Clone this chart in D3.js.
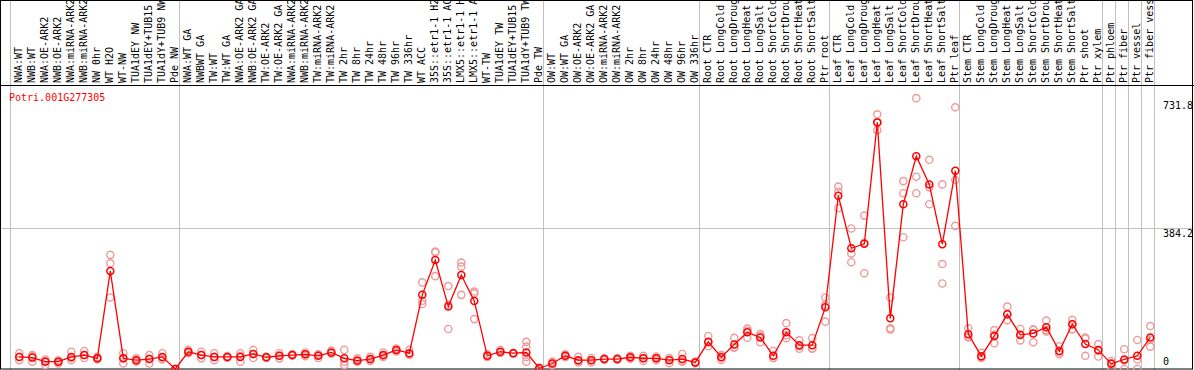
<!DOCTYPE html>
<html>
<head>
<meta charset="utf-8">
<script src="https://cdn.jsdelivr.net/npm/d3@7"></script>
<style>
  body { margin: 0; background: #fff; }
  text { font-family: "DejaVu Sans Mono", monospace; font-size: 10px; }
</style>
</head>
<body>
<script>
const W = 1194, H = 370;
const gene = "Potri.001G277305";

const labels = [
  "NWA:WT", "NWB:WT", "NWA:OE-ARK2", "NWB:OE-ARK2", "NWA:miRNA-ARK2", "NWB:miRNA-ARK2",
  "NW 0hr", "WT H2O", "WT-NW", "TUA1dEY NW", "TUA1dEY+TUB15 NW", "TUA1dY+TUB9 NW", "Pde NW",
  "NWA:WT GA", "NWBWT GA", "TW:WT", "TW:WT GA", "NWA:OE-ARK2 GA", "NWB:OE-ARK2 GA",
  "TW:OE-ARK2", "TW:OE-ARK2 GA", "NWA:miRNA-ARK2", "NWB:miRNA-ARK2", "TW:miRNA-ARK2", "TW:miRNA-ARK2",
  "TW 2hr", "TW 8hr", "TW 24hr", "TW 48hr", "TW 96hr", "TW 336hr", "WT ACC",
  "35S::etr1-1 H2O", "35S::etr1-1 ACC", "LMX5::etr1-1 H2O", "LMX5::etr1-1 ACC",
  "WT-TW", "TUA1dEY TW", "TUA1dEY+TUB15 TW", "TUA1dY+TUB9 TW", "Pde TW",
  "OW:WT", "OW:WT GA", "OW:OE-ARK2", "OW:OE-ARK2 GA", "OW:miRNA-ARK2", "OW:miRNA-ARK2",
  "OW 2hr", "OW 8hr", "OW 24hr", "OW 48hr", "OW 96hr", "OW 336hr",
  "Root CTR", "Root LongCold", "Root LongDrought", "Root LongHeat", "Root LongSalt",
  "Root ShortCold", "Root ShortDrought", "Root ShortHeat", "Root ShortSalt", "Ptr root",
  "Leaf CTR", "Leaf LongCold", "Leaf LongDrought", "Leaf LongHeat", "Leaf LongSalt",
  "Leaf ShortCold", "Leaf ShortDrought", "Leaf ShortHeat", "Leaf ShortSalt", "Ptr leaf",
  "Stem CTR", "Stem LongCold", "Stem LongDrought", "Stem LongHeat", "Stem LongSalt",
  "Stem ShortCold", "Stem ShortDrought", "Stem ShortHeat", "Stem ShortSalt", "Ptr shoot", "Ptr xylem",
  "Ptr phloem", "Ptr fiber", "Ptr vessel", "Ptr fiber vessel"
];

// index of first sample in each block (last entry = end)
const groupStarts = [0, 13, 41, 53, 63, 73, 84, 85, 86, 87, 88];

const means = [
  33, 31, 20, 20, 33, 38, 29, 267, 29, 24, 27, 33, 0,
  47, 38, 33, 33, 33, 41, 32, 36, 38, 40, 36, 45, 29, 23, 27, 38, 52, 43, 202,
  297, 170, 256, 185, 36, 47, 43, 45, 2,
  15, 36, 24, 24, 27, 27, 32, 29, 29, 24, 27, 18,
  74, 32, 67, 100, 86, 36, 100, 65, 65, 168,
  472, 329, 341, 672, 138, 449, 580, 503, 340, 540,
  95, 35, 90, 149, 93, 97, 114, 49, 122, 68, 52,
  14, 26, 36, 86
];

const reps = [
  [43, 24, 33], [38, 20, 35], [26, 11, 22], [24, 15, 20], [47, 24, 30], [49, 38, 30],
  [33, 26, 29], [311, 288, 195], [43, 15, 29], [29, 20, 24], [38, 15, 28], [43, 26, 31], [0, 0, 0],
  [52, 43, 46], [47, 29, 38], [43, 24, 33], [33, 31, 35], [43, 20, 36], [52, 41, 30],
  [32, 30, 34], [43, 29, 36], [38, 36, 40], [45, 35, 40], [40, 30, 38], [50, 42, 44],
  [52, 20, 11], [29, 20, 20], [33, 22, 26], [45, 33, 36], [56, 48, 52], [52, 38, 40], [236, 186, 177],
  [320, 318, 253], [226, 109, 175], [290, 279, 202], [211, 206, 136],
  [40, 33, 35], [52, 44, 45], [43, 42, 44], [74, 61, 33, 20], [2, 0, 4],
  [20, 10, 15], [40, 32, 36], [33, 18, 22], [30, 18, 24], [27, 25, 29], [29, 25, 27],
  [36, 28, 32], [36, 22, 29], [34, 24, 29], [30, 16, 26], [41, 20, 22], [20, 16, 18],
  [90, 62, 72], [38, 25, 33], [85, 58, 60], [110, 85, 104], [95, 73, 90],
  [49, 30, 30], [125, 92, 84], [78, 55, 62], [84, 56, 55], [195, 174, 129],
  [497, 483, 438], [383, 315, 291], [418, 261, 344], [694, 651, 672], [195, 111, 108],
  [512, 479, 359], [738, 524, 479], [570, 495, 449], [503, 286, 233], [713, 515, 390],
  [111, 86, 88], [44, 30, 32], [106, 70, 94], [170, 133, 150], [109, 78, 92],
  [108, 73, 107], [132, 102, 106], [62, 40, 45], [134, 108, 122], [86, 36, 83], [68, 34, 49],
  [16, 0, 22], [54, 0, 24], [79, 0, 26], [117, 61, 80]
];

const yTicks = [0, 384.2, 731.8];
const yGrid = [384.2];
const yMax = 768.4;

const svg = d3.select("body").append("svg")
    .attr("width", W)
    .attr("height", H);

const x = d3.scaleBand()
    .domain(d3.range(labels.length))
    .range([10.5, 10.5 + labels.length * 13]);
const px = i => x(i) + 8.8;
const y = d3.scaleLinear().domain([0, yMax]).range([369, 87]);

const headerY = 85.5;
const maxChars = 14; // header only has room for this many chars

// grid lines
svg.selectAll(".vgrid")
    .data(groupStarts)
    .enter().append("line")
    .attr("class", "vgrid")
    .attr("x1", d => d < labels.length ? x(d) : x.range()[1])
    .attr("x2", d => d < labels.length ? x(d) : x.range()[1])
    .attr("y1", 0).attr("y2", H)
    .attr("stroke", "#c0c0c0").attr("stroke-width", 1);

svg.selectAll(".hgrid")
    .data(yGrid)
    .enter().append("line")
    .attr("x1", 0).attr("x2", W)
    .attr("y1", d => Math.round(y(d)) + 0.5)
    .attr("y2", d => Math.round(y(d)) + 0.5)
    .attr("stroke", "#c0c0c0");

// sample labels, rotated
svg.selectAll(".lab")
    .data(labels)
    .enter().append("text")
    .attr("transform", (d, i) => `translate(${px(i) + 3},83) rotate(-90)`)
    .attr("fill", "#000")
    .text(d => d.length > maxChars ? d.slice(0, maxChars).trimEnd() : d);

// frame
svg.append("rect")
    .attr("x", 0.5).attr("y", 0.5)
    .attr("width", W - 2).attr("height", H - 1.5)
    .attr("fill", "none").attr("stroke", "#000");
svg.append("line")
    .attr("x1", 0).attr("x2", W)
    .attr("y1", headerY).attr("y2", headerY)
    .attr("stroke", "#000");

// title
svg.append("text")
    .attr("x", 9).attr("y", 100.5)
    .attr("fill", "red")
    .text(gene);

// y tick labels
svg.selectAll(".ytick")
    .data(yTicks)
    .enter().append("text")
    .attr("x", 1163)
    .attr("y", d => Math.min(y(d) + 8.5, 365))
    .attr("fill", "#000")
    .text(d => d);

// replicate circles
const repPts = [];
reps.forEach((r, i) => r.forEach(v => repPts.push({ i, v })));
svg.selectAll(".rep")
    .data(repPts)
    .enter().append("circle")
    .attr("cx", d => px(d.i))
    .attr("cy", d => y(d.v))
    .attr("r", 3.6)
    .attr("fill", "none")
    .attr("stroke", "#ef9a9a")
    .attr("stroke-width", 1.4);

// mean line
const line = d3.line()
    .x((d, i) => px(i))
    .y(d => y(d));
svg.append("path")
    .datum(means)
    .attr("d", line)
    .attr("fill", "none")
    .attr("stroke", "red")
    .attr("stroke-width", 1.3);

svg.selectAll(".mean")
    .data(means)
    .enter().append("circle")
    .attr("cx", (d, i) => px(i))
    .attr("cy", d => y(d))
    .attr("r", 3.5)
    .attr("fill", "none")
    .attr("stroke", "red")
    .attr("stroke-width", 1.5);
</script>
</body>
</html>
